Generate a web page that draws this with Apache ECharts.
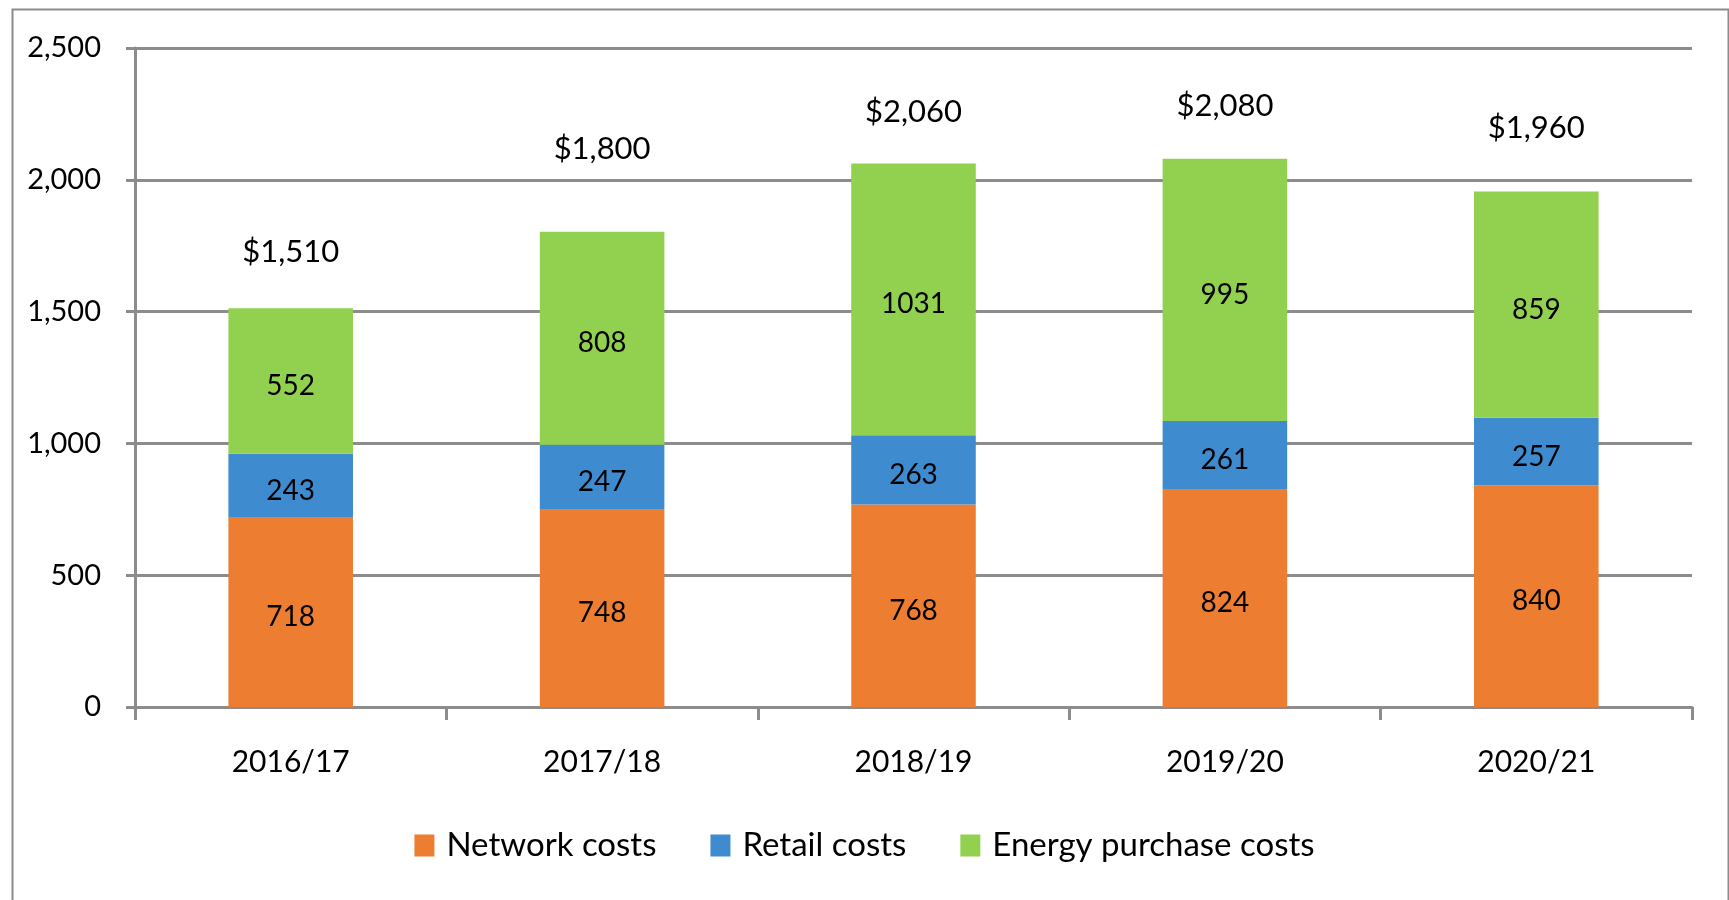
<!DOCTYPE html>
<html>
<head>
<meta charset="utf-8">
<script src="https://cdn.jsdelivr.net/npm/echarts@6/dist/echarts.min.js"></script>
<style>
html,body{margin:0;padding:0;background:#fff;}
#chart{width:1729px;height:900px;}
</style>
</head>
<body>
<div id="chart"></div>
<script>
const categories = ['2016/17', '2017/18', '2018/19', '2019/20', '2020/21'];
const networkCosts = [718, 748, 768, 824, 840];
const retailCosts = [243, 247, 263, 261, 257];
const energyCosts = [552, 808, 1031, 995, 859];
const totals = [1510, 1800, 2060, 2080, 1960];
const yTicks = [0, 500, 1000, 1500, 2000, 2500];

// label layout (distance of total labels above bar tops, px)
const totalLabelLift = [41, 67, 36, 37, 48];

const FONT = 'Lato';
const chart = echarts.init(document.getElementById('chart'), null, {renderer: 'canvas'});

const innerLabel = {
  show: true, position: 'inside', offset: [0, 5], color: '#000', fontFamily: FONT, fontSize: 28
};

const option = {
  animation: false,
  backgroundColor: '#fff',
  textStyle: {fontFamily: FONT},
  graphic: [{
    type: 'rect', left: 10, top: 7, z: -1,
    shape: {width: 1716, height: 910},
    style: {fill: 'none', stroke: '#8c8c8c', lineWidth: 2}
  }],
  grid: {left: 135, right: 37, top: 48, bottom: 193, containLabel: false},
  legend: {
    data: ['Network costs', 'Retail costs', 'Energy purchase costs'],
    left: 'center', top: 824,
    itemWidth: 20, itemHeight: 22, itemGap: 54,
    icon: 'rect',
    textStyle: {fontFamily: FONT, fontSize: 33, color: '#000', padding: [0, 0, 0, 7]}
  },
  xAxis: {
    type: 'category',
    data: categories,
    boundaryGap: true,
    axisLine: {show: true, lineStyle: {color: '#8c8c8c', width: 3}},
    axisTick: {show: true, length: 13, alignWithLabel: false, lineStyle: {color: '#8c8c8c', width: 3}},
    axisLabel: {color: '#000', fontFamily: FONT, fontSize: 30, margin: 40}
  },
  yAxis: {
    type: 'value',
    min: yTicks[0], max: yTicks[yTicks.length - 1], interval: 500,
    axisLine: {show: true, lineStyle: {color: '#8c8c8c', width: 3}},
    axisTick: {show: true, length: 9, lineStyle: {color: '#8c8c8c', width: 3}},
    splitLine: {show: true, lineStyle: {color: '#8c8c8c', width: 3}},
    axisLabel: {
      color: '#000', fontFamily: FONT, fontSize: 29, margin: 34,
      formatter: v => v.toLocaleString('en-US')
    }
  },
  series: [
    {
      name: 'Network costs', type: 'bar', stack: 'total', barWidth: '40%',
      data: networkCosts,
      itemStyle: {color: '#ED7D31'},
      label: innerLabel
    },
    {
      name: 'Retail costs', type: 'bar', stack: 'total',
      data: retailCosts,
      itemStyle: {color: '#3E8BCF'},
      label: innerLabel
    },
    {
      name: 'Energy purchase costs', type: 'bar', stack: 'total',
      data: energyCosts,
      itemStyle: {color: '#92D050'},
      label: innerLabel
    },
    {
      name: 'Total', type: 'bar', stack: 'total',
      data: totals.map((t, i) => ({
        value: 0,
        label: {distance: totalLabelLift[i]}
      })),
      itemStyle: {color: 'transparent'},
      label: {
        show: true, position: 'top', color: '#000', fontFamily: FONT, fontSize: 31,
        formatter: p => '$' + totals[p.dataIndex].toLocaleString('en-US')
      }
    }
  ]
};
chart.setOption(option);
</script>
</body>
</html>
